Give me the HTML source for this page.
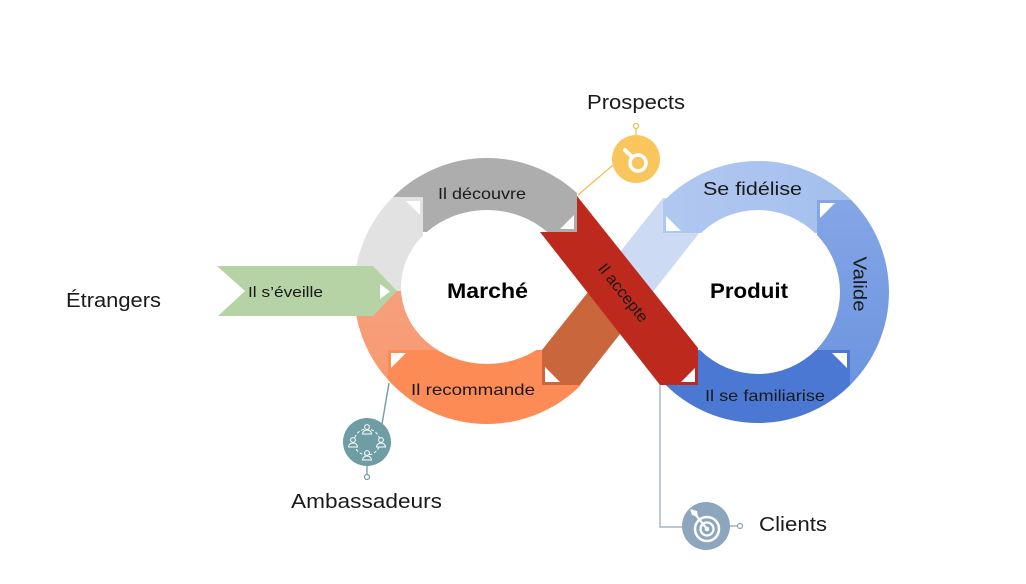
<!DOCTYPE html>
<html><head><meta charset="utf-8"><style>
html,body{margin:0;padding:0;background:#fff;}
svg{display:block;}
text{font-family:"Liberation Sans",sans-serif;fill:#1a1a1a;}
</style></head><body>
<svg width="1026" height="584" viewBox="0 0 1026 584" xmlns="http://www.w3.org/2000/svg">
<defs>
<clipPath id="cLG"><rect x="0" y="197" width="423" height="94"/></clipPath>
<clipPath id="cG"><rect x="0" y="0" width="423" height="197"/><rect x="423" y="0" width="154" height="232"/></clipPath>
<clipPath id="cS"><rect x="0" y="291" width="388" height="300"/><rect x="388" y="291" width="112" height="59"/></clipPath>
<clipPath id="cO"><rect x="388" y="350" width="154" height="250"/><rect x="542" y="385" width="100" height="200"/></clipPath>
<clipPath id="cSF"><rect x="663" y="0" width="154" height="233"/><rect x="817" y="0" width="200" height="200"/></clipPath>
<clipPath id="cV"><rect x="817" y="200" width="200" height="150"/><rect x="850" y="350" width="200" height="250"/></clipPath>
<clipPath id="cF"><rect x="550" y="350" width="300" height="250"/></clipPath>
<linearGradient id="gV" x1="0" y1="0" x2="0" y2="1">
<stop offset="0" stop-color="#8AAAE8"/><stop offset="1" stop-color="#6790DD"/></linearGradient>
<linearGradient id="gS" x1="0" y1="0" x2="0" y2="1">
<stop offset="0" stop-color="#F4A88C"/><stop offset="1" stop-color="#F8976C"/></linearGradient>
<linearGradient id="gSF" x1="0" y1="0" x2="1" y2="0">
<stop offset="0" stop-color="#B3CAF0"/><stop offset="1" stop-color="#A2BDEE"/></linearGradient>
</defs>

<!-- Left ring -->
<g fill-rule="evenodd">
<path id="ringL" d="M487,158 A133,133 0 1,0 487,424 A133,133 0 1,0 487,158 Z M487,210 A86,77 0 1,1 487,364 A86,77 0 1,1 487,210 Z" fill="#E2E2E2" clip-path="url(#cLG)"/>
<path d="M487,158 A133,133 0 1,0 487,424 A133,133 0 1,0 487,158 Z M487,210 A86,77 0 1,1 487,364 A86,77 0 1,1 487,210 Z" fill="#ADADAD" clip-path="url(#cG)"/>
<path d="M487,158 A133,133 0 1,0 487,424 A133,133 0 1,0 487,158 Z M487,210 A86,77 0 1,1 487,364 A86,77 0 1,1 487,210 Z" fill="url(#gS)" clip-path="url(#cS)"/>
<path d="M487,158 A133,133 0 1,0 487,424 A133,133 0 1,0 487,158 Z M487,210 A86,77 0 1,1 487,364 A86,77 0 1,1 487,210 Z" fill="#FC8B56" clip-path="url(#cO)"/>
</g>

<!-- Light/brown diagonal -->
<polygon points="663,198 700,198 700,232 580,385 542,385 542,350" fill="#CCDAF4"/>
<polygon points="542,350 603.8,272.3 636.2,313.3 580,385 542,385" fill="#C9663B"/>

<!-- Right ring -->
<g fill-rule="evenodd">
<path d="M758,161 A131,131 0 1,0 758,423 A131,131 0 1,0 758,161 Z M758,210 A82,82 0 1,1 758,374 A82,82 0 1,1 758,210 Z" fill="url(#gSF)" clip-path="url(#cSF)"/>
<path d="M758,161 A131,131 0 1,0 758,423 A131,131 0 1,0 758,161 Z M758,210 A82,82 0 1,1 758,374 A82,82 0 1,1 758,210 Z" fill="url(#gV)" clip-path="url(#cV)"/>
<path d="M758,161 A131,131 0 1,0 758,423 A131,131 0 1,0 758,161 Z M758,210 A82,82 0 1,1 758,374 A82,82 0 1,1 758,210 Z" fill="#4A78D3" clip-path="url(#cF)"/>
</g>

<!-- Red diagonal -->
<polygon points="577,196 698,348 698,385 660,385 540,232 577,232" fill="#BE291E"/>

<!-- Green arrow -->
<polygon points="217,266 373,266 397,291 373,316 218,316 245,291" fill="#B5D3A5"/>

<!-- White triangles -->
<g fill="#fff">
<polygon points="380,284 380,299 390,291.5"/>
<polygon points="406,201 420,201 420,215"/>
<polygon points="560,229 574,229 574,215"/>
<polygon points="681,382 695,382 695,368"/>
<polygon points="832,353 847,353 847,368"/>
<polygon points="820,203 835,203 820,218"/>
<polygon points="666,216 666,231 681,231"/>
<polygon points="545,367 545,382 560,382"/>
<polygon points="391,353 406,353 391,368"/>
</g>

<!-- Connectors -->
<line x1="578" y1="195" x2="613" y2="165" stroke="#F2C35A" stroke-width="1.4"/>
<line x1="636" y1="135" x2="636" y2="129" stroke="#E9BE58" stroke-width="1.3"/>
<circle cx="636" cy="126" r="2.5" fill="#fff" stroke="#E9BE58" stroke-width="1.2"/>

<line x1="389" y1="383" x2="382" y2="424" stroke="#6E9DA3" stroke-width="1.4"/>
<line x1="367" y1="466" x2="367" y2="474" stroke="#6E9DA3" stroke-width="1.3"/>
<circle cx="367" cy="477" r="2.5" fill="#fff" stroke="#6E9DA3" stroke-width="1.2"/>

<polyline points="660,385 660,527 683,527" fill="none" stroke="#A3B5C6" stroke-width="1.4"/>
<line x1="730" y1="526" x2="737" y2="526" stroke="#8DA6BD" stroke-width="1.3"/>
<circle cx="740" cy="526" r="2.5" fill="#fff" stroke="#8DA6BD" stroke-width="1.2"/>

<!-- Prospects icon -->
<circle cx="636" cy="159" r="24" fill="#F8C65C"/>
<circle cx="638" cy="163" r="8" fill="none" stroke="#fff" stroke-width="3.5"/>
<line x1="632" y1="157" x2="625" y2="150" stroke="#fff" stroke-width="4" stroke-linecap="round"/>

<!-- Ambassadeurs icon -->
<circle cx="367" cy="442" r="24" fill="#6E9DA3"/>
<circle cx="367" cy="442" r="13" fill="none" stroke="#fff" stroke-width="1" stroke-dasharray="3 2"/>
<g fill="#6E9DA3" stroke="#fff" stroke-width="1">
<circle cx="367" cy="427" r="2.4"/><path d="M362.5,434 a4.5,4 0 0 1 9,0 z"/>
<circle cx="381" cy="440" r="2.4"/><path d="M376.5,447 a4.5,4 0 0 1 9,0 z"/>
<circle cx="367" cy="453" r="2.4"/><path d="M362.5,460 a4.5,4 0 0 1 9,0 z"/>
<circle cx="353" cy="440" r="2.4"/><path d="M348.5,447 a4.5,4 0 0 1 9,0 z"/>
</g>

<!-- Clients icon -->
<circle cx="706" cy="526" r="24" fill="#8DA6BD"/>
<circle cx="707" cy="529" r="12" fill="none" stroke="#fff" stroke-width="2.5"/>
<circle cx="707" cy="529" r="6.5" fill="none" stroke="#fff" stroke-width="2.3"/>
<circle cx="707" cy="529" r="2.3" fill="#fff"/>
<line x1="707" y1="529" x2="695" y2="514" stroke="#fff" stroke-width="2.2"/>
<polygon points="690,509 697,511 698,517 692,515" fill="#fff"/>

<!-- Text labels -->
<text x="587" y="109" font-size="20" textLength="98" lengthAdjust="spacingAndGlyphs">Prospects</text>
<text x="66" y="307" font-size="20" textLength="95" lengthAdjust="spacingAndGlyphs">Étrangers</text>
<text x="291" y="508" font-size="20" textLength="151" lengthAdjust="spacingAndGlyphs">Ambassadeurs</text>
<text x="759" y="531" font-size="20" textLength="68" lengthAdjust="spacingAndGlyphs">Clients</text>

<text x="447" y="298" font-size="21" font-weight="bold" textLength="81" lengthAdjust="spacingAndGlyphs" style="fill:#000">Marché</text>
<text x="710" y="298" font-size="21" font-weight="bold" textLength="78" lengthAdjust="spacingAndGlyphs" style="fill:#000">Produit</text>

<text x="438" y="199" font-size="16" textLength="88" lengthAdjust="spacingAndGlyphs">Il découvre</text>
<text x="411" y="395" font-size="16" textLength="124" lengthAdjust="spacingAndGlyphs">Il recommande</text>
<text x="703" y="195" font-size="18" textLength="99" lengthAdjust="spacingAndGlyphs">Se fidélise</text>
<text x="705" y="401" font-size="16" textLength="120" lengthAdjust="spacingAndGlyphs">Il se familiarise</text>
<text transform="translate(853.5,284) rotate(90)" text-anchor="middle" font-size="18" textLength="55" lengthAdjust="spacingAndGlyphs">Valide</text>
<text transform="translate(623,293) rotate(51.5)" text-anchor="middle" dy="5" font-size="16" textLength="70" lengthAdjust="spacingAndGlyphs">Il accepte</text>
<text x="248" y="297" font-size="15" textLength="75" lengthAdjust="spacingAndGlyphs">Il s’éveille</text>
</svg>
</body></html>
